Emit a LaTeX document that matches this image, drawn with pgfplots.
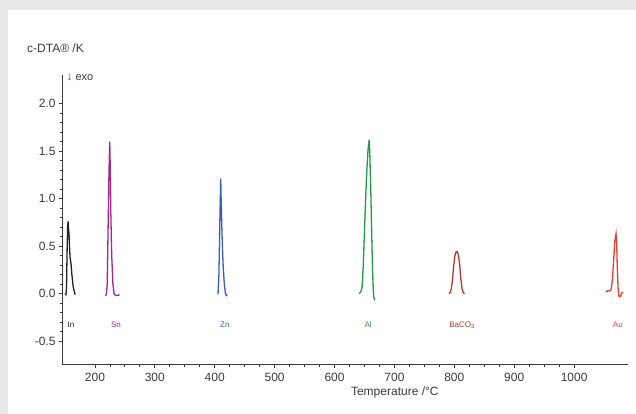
\documentclass[border=0pt]{standalone}
\usepackage{pgfplots}
\pgfplotsset{compat=1.18}
\usepackage{fontspec}
\setmainfont{Liberation Sans}
\definecolor{cIn}{HTML}{222222}
\definecolor{cSn}{HTML}{A3268F}
\definecolor{cZn}{HTML}{3A5CB5}
\definecolor{cAl}{HTML}{23994A}
\definecolor{cBa}{HTML}{B23A2C}
\definecolor{cAu}{HTML}{E2412F}
\definecolor{axc}{HTML}{3C3C3C}
\begin{document}
\begin{tikzpicture}
\begin{axis}[set layers=standard, scale only axis,
  width=566pt, height=290pt,
  xmin=145, xmax=1090, ymin=-0.75, ymax=2.3,
  axis lines=left, axis line style={-, color=axc, line width=1pt},
  xtick={200,300,...,1000}, ytick={-0.5,0,0.5,1.0,1.5,2.0},
  minor x tick num=3, minor y tick num=4,
  tick align=outside, major tick length=3pt, minor tick length=2pt,
  tick style={color=axc, line width=0.8pt},
  /pgf/number format/assume math mode=true,
  /pgf/number format/1000 sep={},
  yticklabel style={/pgf/number format/.cd, fixed, fixed zerofill, precision=1},
  ticklabel style={font=\fontsize{12}{14}\selectfont, text=axc},
  xticklabel style={yshift=-2pt},
  xlabel={Temperature /°C},
  xlabel style={font=\fontsize{12}{14}\selectfont, text=axc, at={(axis description cs:0.588,0)}, anchor=north, yshift=-18pt},
  clip=false,
]
\begin{pgfonlayer}{axis background}
\fill[black!9] ([xshift=-62pt,yshift=-49pt]rel axis cs:0,0) rectangle ([xshift=574pt,yshift=365pt]rel axis cs:0,0);
\fill[white] ([xshift=-54pt,yshift=-49pt]rel axis cs:0,0) rectangle ([xshift=574pt,yshift=355pt]rel axis cs:0,0);
\end{pgfonlayer}
\node[anchor=west,font=\fontsize{12}{14}\selectfont,text=axc,inner sep=0] at ([xshift=-35pt,yshift=317pt]rel axis cs:0,0) {c-DTA® /K};
\addplot[cIn, line width=1.3pt] coordinates {(150.5,0.0)(151.5,-0.01)(152.5,0.05)(153.5,0.45)(154.5,0.72)(155.3,0.76)(156,0.68)(156.8,0.62)(157.5,0.5)(158.5,0.38)(160,0.32)(161.5,0.2)(163.5,0.08)(166,0.01)(167,-0.01)};
\addplot[cSn, line width=1.3pt] coordinates {(217,-0.02)(219,-0.01)(220.5,0.1)(222,0.7)(223.5,1.3)(224.7,1.6)(225.5,1.35)(226.5,0.85)(228,0.4)(230,0.1)(232,0.0)(235,-0.02)(238,-0.02)(241,-0.01)};
\addplot[cZn, line width=1.3pt] coordinates {(404.5,0.0)(405.5,0.0)(407,0.2)(408.5,0.75)(410,1.21)(411,0.9)(412.5,0.55)(414,0.3)(416,0.1)(418,0.0)(419.5,-0.02)(421,-0.01)};
\addplot[cAl, line width=1.3pt] coordinates {(641,0.0)(644,0.02)(646,0.07)(648,0.3)(650,0.65)(652,1.0)(654,1.3)(656,1.52)(658,1.62)(659,1.45)(660.5,1.1)(662,0.65)(663.5,0.25)(665,0.0)(666,-0.05)(667.5,-0.07)};
\addplot[cBa, line width=1.3pt] coordinates {(791,0.0)(793,0.01)(795,0.05)(797,0.15)(799,0.3)(801,0.4)(803,0.44)(805,0.44)(807,0.4)(809,0.3)(811,0.15)(813,0.05)(815,0.01)(817,0.0)};
\addplot[cAu, line width=1.3pt] coordinates {(1053,0.02)(1056,0.03)(1060,0.03)(1062,0.05)(1064,0.15)(1066,0.35)(1068,0.55)(1070,0.63)(1071,0.55)(1072,0.3)(1073.5,0.05)(1075,-0.03)(1077,-0.03)(1079,0.0)(1081,0.02)};
\node[font=\fontsize{8}{10}\selectfont, text=cIn] at (axis cs:160,-0.33) {In};
\node[font=\fontsize{8}{10}\selectfont, text=cSn] at (axis cs:235,-0.33) {Sn};
\node[font=\fontsize{8}{10}\selectfont, text=cZn] at (axis cs:417,-0.33) {Zn};
\node[font=\fontsize{8}{10}\selectfont, text=cAl] at (axis cs:656,-0.33) {Al};
\node[font=\fontsize{8}{10}\selectfont, text=cBa] at (axis cs:813,-0.33) {BaCO\textsubscript{3}};
\node[font=\fontsize{8}{10}\selectfont, text=cAu] at (axis cs:1073,-0.33) {Au};
\node[anchor=west, font=\fontsize{11}{13}\selectfont, text=axc, inner sep=0] at (axis cs:153,2.27) {↓ exo};
\end{axis}
\end{tikzpicture}
\end{document}
